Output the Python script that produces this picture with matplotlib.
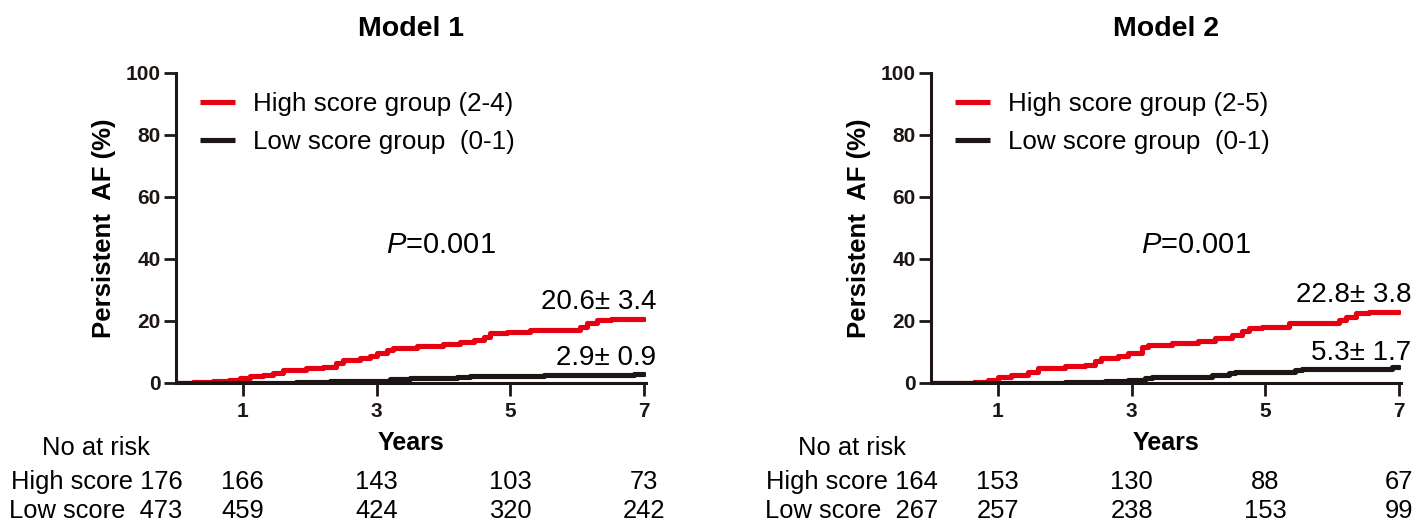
import matplotlib
matplotlib.use('Agg')
import matplotlib.pyplot as plt
import matplotlib.transforms as mtransforms

plt.rcParams['font.family'] = ['Liberation Sans', 'DejaVu Sans']
plt.rcParams['mathtext.fontset'] = 'custom'
plt.rcParams['mathtext.it'] = 'Liberation Sans:italic'
plt.rcParams['mathtext.rm'] = 'Liberation Sans'

# Model 1 curves (years, cumulative %)
m1_high_t = [0, 0.25, 0.55, 0.8, 0.95, 1.1, 1.3, 1.45, 1.6, 1.95, 2.2, 2.4, 2.5, 2.75, 2.9,
             3.0, 3.15, 3.25, 3.6, 4.0, 4.25, 4.45, 4.6, 4.7, 4.95, 5.3, 6.05, 6.15, 6.3, 6.5, 7.0]
m1_high_y = [0, 0.3, 0.6, 1.0, 1.6, 2.1, 2.6, 3.2, 4.2, 4.7, 5.3, 6.3, 7.4, 8.0, 8.6,
             9.6, 10.6, 11.4, 11.8, 12.6, 13.2, 13.8, 14.8, 16.0, 16.6, 17.2, 18.2, 19.3, 20.3, 20.6, 20.6]
m1_low_t = [0, 1.8, 2.3, 2.8, 3.2, 3.5, 4.2, 4.4, 5.0, 5.5, 6.5, 6.85, 7.0]
m1_low_y = [0, 0.2, 0.5, 0.8, 1.2, 1.5, 1.8, 2.2, 2.4, 2.6, 2.7, 2.9, 2.9]

# Model 2 curves
m2_high_t = [0, 0.65, 0.85, 1.0, 1.2, 1.45, 1.6, 2.0, 2.3, 2.45, 2.55, 2.8, 2.95, 3.15, 3.25,
             3.6, 4.0, 4.25, 4.5, 4.65, 4.75, 4.95, 5.35, 6.1, 6.2, 6.35, 6.55, 7.0]
m2_high_y = [0, 0.3, 1.0, 1.8, 2.6, 3.6, 4.7, 5.4, 5.8, 7.2, 8.0, 8.6, 9.8, 11.5, 12.3,
             12.8, 13.7, 14.5, 15.5, 16.8, 17.6, 18.1, 19.2, 20.2, 21.4, 22.5, 22.8, 22.8]
m2_low_t = [0, 2.0, 2.6, 2.95, 3.2, 3.3, 4.2, 4.45, 4.55, 5.45, 5.55, 6.9, 7.0]
m2_low_y = [0, 0.2, 0.5, 0.9, 1.6, 2.0, 2.6, 3.2, 3.6, 4.2, 4.6, 5.3, 5.3]

titles = ['Model 1', 'Model 2']
high_labels = ['High score group (2-4)', 'High score group (2-5)']
low_label = 'Low score group  (0-1)'
high_end = ['20.6\u00b1 3.4', '22.8\u00b1 3.8']
high_end_y = [26.1, 28.4]
low_end = ['2.9\u00b1 0.9', '5.3\u00b1 1.7']
low_end_y = [8.1, 9.7]
p_text = '$P$=0.001'

risk_years = [1, 3, 5, 7]
m1_risk_high = [176, 166, 143, 103, 73]
m1_risk_low = [473, 459, 424, 320, 242]
m2_risk_high = [164, 153, 130, 88, 67]
m2_risk_low = [267, 257, 238, 153, 99]

curves = [(m1_high_t, m1_high_y, m1_low_t, m1_low_y),
          (m2_high_t, m2_high_y, m2_low_t, m2_low_y)]
risks = [(m1_risk_high, m1_risk_low), (m2_risk_high, m2_risk_low)]

W, H = 1418, 524
fig = plt.figure(figsize=(W / 100, H / 100), dpi=100)

lefts = [176, 931]
no_risk_x = [42, 798]
red = '#e60012'
black = '#1e1614'

for k in range(2):
    ax = fig.add_axes([lefts[k] / W, 1 - 383 / H, 470 / W, 310 / H])
    ht, hy, lt, ly = curves[k]
    ax.plot(ht, hy, drawstyle='steps-post', color=red, lw=3.7,
            solid_capstyle='round', label=high_labels[k])
    ax.plot(lt, ly, drawstyle='steps-post', color=black, lw=3.7,
            solid_capstyle='round', label=low_label)
    ax.set_xlim(0, 7.03)
    ax.set_ylim(0, 100)
    ax.set_xticks(risk_years)
    ax.set_yticks([0, 20, 40, 60, 80, 100])
    for s in ['top', 'right']:
        ax.spines[s].set_visible(False)
    for s in ['left', 'bottom']:
        ax.spines[s].set_linewidth(2.2)
        ax.spines[s].set_color(black)
    ax.tick_params(direction='out', length=9, width=2, colors=black,
                   labelsize=15)
    ax.tick_params(axis='y', pad=2)
    ax.tick_params(axis='x', pad=5)
    for lab in ax.get_xticklabels() + ax.get_yticklabels():
        lab.set_fontweight('bold')
    ax.set_ylabel('Persistent  AF (%)', fontsize=18.5, fontweight='bold', labelpad=7)
    ax.set_xlabel('Years', fontsize=18, fontweight='bold', labelpad=7)
    ax.set_title(titles[k], fontsize=20.5, fontweight='bold', pad=27)
    leg = ax.legend(loc='upper left', bbox_to_anchor=(0.05, 0.939), frameon=False,
                    fontsize=18.7, handlelength=1.35, handletextpad=0.7,
                    labelspacing=0.56, borderpad=0, borderaxespad=0)
    for line in leg.get_lines():
        line.set_solid_capstyle('butt')
        line.set_linewidth(3.7)
    ax.text(3.96, 44.5, p_text, fontsize=21, ha='center', va='center')
    ax.text(7.18, high_end_y[k], high_end[k], fontsize=20, ha='right', va='center')
    ax.text(7.18, low_end_y[k], low_end[k], fontsize=20, ha='right', va='center')

    # number at risk table
    trans = mtransforms.blended_transform_factory(ax.transData, fig.transFigure)
    rh, rl = risks[k]
    fig.text(no_risk_x[k] / W, 1 - 448 / H, 'No at risk', fontsize=18.4,
             ha='left', va='center')
    ax.text(0.1, 1 - 482 / H, 'High score %d' % rh[0], fontsize=18.4,
            ha='right', va='center', transform=trans)
    ax.text(0.1, 1 - 511 / H, 'Low score  %d' % rl[0], fontsize=18.4,
            ha='right', va='center', transform=trans)
    for j, yr in enumerate(risk_years):
        ax.text(yr, 1 - 482 / H, str(rh[j + 1]), fontsize=18.4,
                ha='center', va='center', transform=trans)
        ax.text(yr, 1 - 511 / H, str(rl[j + 1]), fontsize=18.4,
                ha='center', va='center', transform=trans)

fig.savefig('out.png', dpi=100)
